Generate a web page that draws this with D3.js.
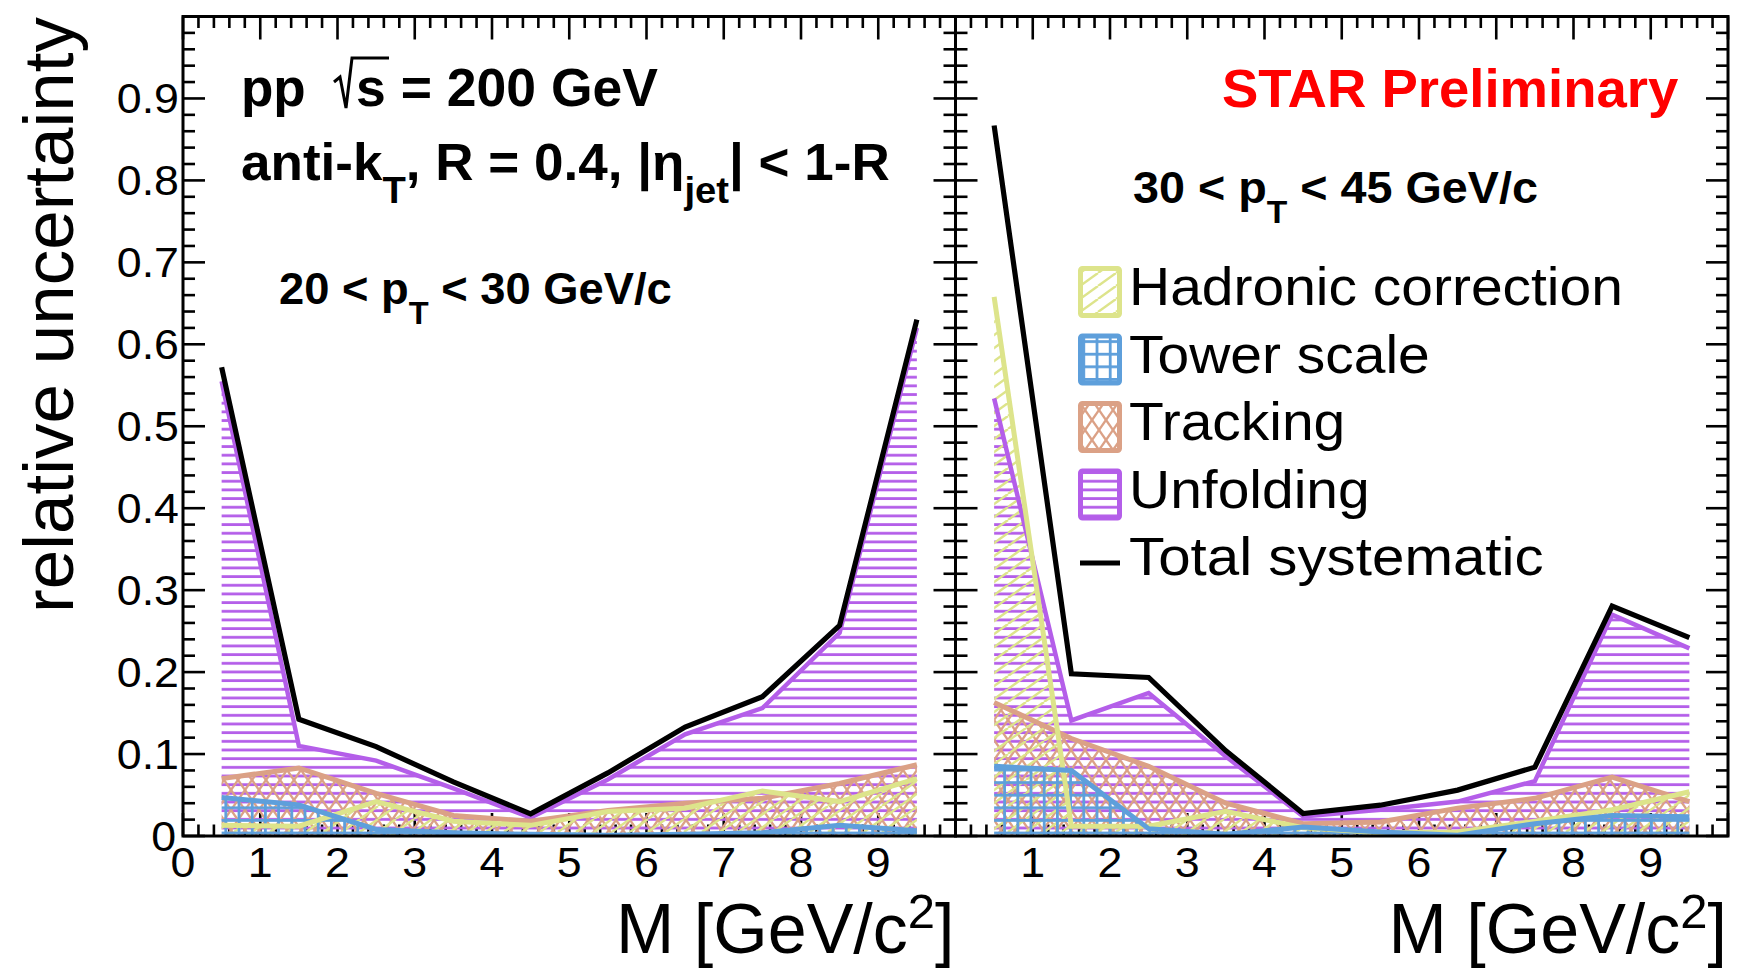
<!DOCTYPE html>
<html>
<head>
<meta charset="utf-8">
<script src="https://cdn.jsdelivr.net/npm/d3@7"></script>
<style>
  html, body { margin: 0; padding: 0; background: #fff; }
  svg { display: block; }
  text { font-family: "Liberation Sans", Arial, Helvetica, sans-serif; }
</style>
</head>
<body>
<div id="chart"></div>
<script>
// ---------------- data ----------------
const massBins = [0.5, 1.5, 2.5, 3.5, 4.5, 5.5, 6.5, 7.5, 8.5, 9.5];

// 20 < pT < 30 GeV/c
const unfoldingLow = [0.555, 0.110, 0.092, 0.058, 0.0225, 0.069, 0.124, 0.156, 0.248, 0.620];
const trackingLow  = [0.070, 0.083, 0.052, 0.025, 0.018, 0.031, 0.040, 0.046, 0.064, 0.087];
const hadronicLow  = [0.013, 0.012, 0.042, 0.018, 0.013, 0.030, 0.034, 0.055, 0.042, 0.070];
const towerLow     = [0.047, 0.038, 0.008, 0.004, 0.002, 0.001, 0.002, 0.004, 0.013, 0.0065];
const totalLow     = [0.572, 0.1425, 0.109, 0.066, 0.027, 0.077, 0.133, 0.170, 0.257, 0.630];

// 30 < pT < 45 GeV/c
const unfoldingHigh = [0.534, 0.141, 0.1745, 0.097, 0.024, 0.032, 0.042, 0.067, 0.270, 0.229];
const trackingHigh  = [0.163, 0.119, 0.085, 0.040, 0.015, 0.017, 0.034, 0.046, 0.072, 0.042];
const hadronicHigh  = [0.658, 0.012, 0.012, 0.030, 0.010, 0.004, 0.005, 0.018, 0.032, 0.054];
const towerHigh     = [0.085, 0.080, 0.009, 0.002, 0.011, 0.005, 0.001, 0.015, 0.025, 0.0235];
const totalHigh     = [0.867, 0.198, 0.1935, 0.104, 0.0275, 0.0376, 0.056, 0.084, 0.2806, 0.242];

const yTickLabels = ["0", "0.1", "0.2", "0.3", "0.4", "0.5", "0.6", "0.7", "0.8", "0.9"];
const xTickLabelsLeft  = ["0", "1", "2", "3", "4", "5", "6", "7", "8", "9"];
const xTickLabelsRight = ["1", "2", "3", "4", "5", "6", "7", "8", "9"];
const legendLabels = ["Hadronic correction", "Tower scale", "Tracking", "Unfolding", "Total systematic"];

// ---------------- styling ----------------
const W = 1739, H = 968;
const COL = {
  unfolding: "#b45ee9",
  tracking: "#dba186",
  hadronic: "#dde48b",
  tower: "#5e9fdb",
  total: "#000000"
};
const TOP = 16.5, BOTTOM = 836;
const panels = [
  { x0: 183, x1: 955.5, name: "low" },
  { x0: 955.5, x1: 1728, name: "high" }
];
const SX = 1.065; // horizontal stretch of regular text

const svg = d3.select("#chart").append("svg")
  .attr("width", W).attr("height", H)
  .attr("viewBox", `0 0 ${W} ${H}`);
const defs = svg.append("defs");

// ---- hatch patterns ----
function pattern(id, w, h) {
  return defs.append("pattern").attr("id", id)
    .attr("patternUnits", "userSpaceOnUse")
    .attr("width", w).attr("height", h);
}
// Unfolding: horizontal lines
(function () {
  const p = pattern("pUnf", 10, 8.67);
  p.append("rect").attr("x", 0).attr("y", 3).attr("width", 10).attr("height", 2.8).attr("fill", COL.unfolding);
})();
// Tower: grid
(function () {
  const p = pattern("pTow", 13.2, 12.6);
  p.append("rect").attr("x", 0).attr("y", 0).attr("width", 2.8).attr("height", 12.6).attr("fill", COL.tower);
  p.append("rect").attr("x", 0).attr("y", 0).attr("width", 13.2).attr("height", 2.8).attr("fill", COL.tower);
})();
// Tracking: cross hatch
(function () {
  const w = 14, h = 20;
  const p = pattern("pTrk", w, h);
  const g = p.append("g").attr("stroke", COL.tracking).attr("stroke-width", 2.4).attr("fill", "none");
  [[0, 0], [-w, 0], [w, 0], [0, -h], [0, h]].forEach(([dx, dy]) => {
    g.append("line").attr("x1", dx).attr("y1", dy).attr("x2", dx + w).attr("y2", dy + h);
    g.append("line").attr("x1", dx + w).attr("y1", dy).attr("x2", dx).attr("y2", dy + h);
  });
})();
// Hadronic: single diagonal
(function () {
  const w = 18, h = 13;
  const p = pattern("pHad", w, h);
  const g = p.append("g").attr("stroke", COL.hadronic).attr("stroke-width", 2.4).attr("fill", "none");
  [[0, 0], [-w, 0], [w, 0]].forEach(([dx, dy]) => {
    g.append("line").attr("x1", dx).attr("y1", dy + h).attr("x2", dx + w).attr("y2", dy);
  });
})();

const yScale = d3.scaleLinear().domain([0, 1]).range([BOTTOM, TOP]);

const seriesLow = [
  { vals: unfoldingLow, pat: "pUnf", col: COL.unfolding, lw: 4.5 },
  { vals: trackingLow, pat: "pTrk", col: COL.tracking, lw: 5 },
  { vals: hadronicLow, pat: "pHad", col: COL.hadronic, lw: 5 },
  { vals: towerLow, pat: "pTow", col: COL.tower, lw: 5 }
];
const seriesHigh = [
  { vals: unfoldingHigh, pat: "pUnf", col: COL.unfolding, lw: 4.5 },
  { vals: trackingHigh, pat: "pTrk", col: COL.tracking, lw: 5 },
  { vals: hadronicHigh, pat: "pHad", col: COL.hadronic, lw: 5 },
  { vals: towerHigh, pat: "pTow", col: COL.tower, lw: 5 }
];

panels.forEach((P, pi) => {
  const xScale = d3.scaleLinear().domain([0, 10]).range([P.x0, P.x1]);
  const g = svg.append("g");

  // clip
  defs.append("clipPath").attr("id", "clip" + pi)
    .append("rect").attr("x", P.x0).attr("y", TOP).attr("width", P.x1 - P.x0).attr("height", BOTTOM - TOP);

  // ticks
  const tg = g.append("g").attr("stroke", "#000").attr("stroke-width", 2.6);
  const xMinor = d3.range(0, 50.5, 1).map(i => i / 5);
  xMinor.forEach((v, i) => {
    const major = i % 5 === 0;
    const len = major ? 23 : 11.5;
    const x = xScale(v);
    tg.append("line").attr("x1", x).attr("x2", x).attr("y1", BOTTOM).attr("y2", BOTTOM - len);
    tg.append("line").attr("x1", x).attr("x2", x).attr("y1", TOP).attr("y2", TOP + len);
  });
  const yMinor = d3.range(0, 50.5, 1).map(i => i / 50);
  yMinor.forEach((v, i) => {
    const major = i % 5 === 0;
    const len = major ? 22 : 12;
    const y = yScale(v);
    tg.append("line").attr("x1", P.x0).attr("x2", P.x0 + len).attr("y1", y).attr("y2", y);
    tg.append("line").attr("x1", P.x1).attr("x2", P.x1 - len).attr("y1", y).attr("y2", y);
  });

  // data
  const dg = g.append("g").attr("clip-path", `url(#clip${pi})`);
  const series = pi === 0 ? seriesLow : seriesHigh;
  const total = pi === 0 ? totalLow : totalHigh;
  const area = d3.area().x((d, i) => xScale(massBins[i])).y0(yScale(0)).y1(d => yScale(d));
  const line = d3.line().x((d, i) => xScale(massBins[i])).y(d => yScale(d));
  series.forEach(s => {
    dg.append("path").attr("d", area(s.vals)).attr("fill", `url(#${s.pat})`).attr("stroke", "none");
  });
  series.forEach(s => {
    dg.append("path").attr("d", line(s.vals)).attr("fill", "none")
      .attr("stroke", s.col).attr("stroke-width", s.lw).attr("stroke-linejoin", "miter");
  });
  dg.append("path").attr("d", line(total)).attr("fill", "none")
    .attr("stroke", COL.total).attr("stroke-width", 5.2).attr("stroke-linejoin", "miter");

  // frame
  g.append("rect").attr("x", P.x0).attr("y", TOP).attr("width", P.x1 - P.x0).attr("height", BOTTOM - TOP)
    .attr("fill", "none").attr("stroke", "#000").attr("stroke-width", 3);

  // x tick labels
  const labels = pi === 0 ? xTickLabelsLeft : xTickLabelsRight;
  labels.forEach(l => {
    g.append("text").attr("transform", `translate(${xScale(+l)},877) scale(${SX},1)`)
      .attr("text-anchor", "middle").attr("font-size", 42).text(l);
  });

  // x axis title
  const t = g.append("text").attr("transform", `translate(${P.x1 - 1},953)`)
    .attr("text-anchor", "end").attr("font-size", 70);
  t.append("tspan").text("M [GeV/c");
  t.append("tspan").attr("font-size", 49).attr("dy", -25).text("2");
  t.append("tspan").attr("dy", 25).text("]");
});

// y tick labels (left panel only)
yTickLabels.forEach(l => {
  const y = yScale(+l);
  svg.append("text").attr("transform", `translate(${+l === 0 ? 176 : 179},${y + 15}) scale(${SX},1)`)
    .attr("text-anchor", "end").attr("font-size", 42).text(l);
});

// y axis title
svg.append("text").attr("transform", "translate(73,17) rotate(-90)")
  .attr("text-anchor", "end").attr("font-size", 71).text("relative uncertainty");

// ---------------- annotations ----------------
function addText(x, y, size, parts, opts = {}) {
  const sx = opts.sx || 1;
  const t = svg.append("text").attr("transform", `translate(${x},${y}) scale(${sx},1)`)
    .attr("font-size", size)
    .attr("font-weight", opts.weight || "bold").attr("fill", opts.fill || "#000");
  let cur = 0;
  parts.forEach(p => {
    const ts = t.append("tspan");
    const off = p.sub ? Math.round(size * 0.45) : 0;
    ts.attr("dy", off - cur);
    cur = off;
    if (p.sub) ts.attr("font-size", size * 0.72);
    ts.text(p.t);
  });
  return t;
}

// pp sqrt(s) = 200 GeV
addText(241, 106, 53, [{ t: "pp" }]);
svg.append("path").attr("d", "M334,82 L340,77 L346,108 L352,58 L389,58")
  .attr("fill", "none").attr("stroke", "#000").attr("stroke-width", 3).attr("stroke-linejoin", "miter");
addText(356, 106, 53, [{ t: "s = 200 GeV" }], { sx: 1.01 });

addText(241, 180, 52, [
  { t: "anti-k" }, { t: "T", sub: true }, { t: ", R = 0.4, |\u03b7" }, { t: "jet", sub: true }, { t: "| < 1-R" }
], { sx: 1.02 });

addText(279, 304, 44, [{ t: "20 < p" }, { t: "T", sub: true }, { t: " < 30 GeV/c" }], { sx: 1.03 });
addText(1133, 203, 44, [{ t: "30 < p" }, { t: "T", sub: true }, { t: " < 45 GeV/c" }], { sx: 1.062 });

addText(1222, 107, 54.5, [{ t: "STAR Preliminary" }], { fill: "#ff0000" });

// ---------------- legend ----------------
const legendPatterns = ["pHad", "pTow", "pTrk", "pUnf"];
const legendColors = [COL.hadronic, COL.tower, COL.tracking, COL.unfolding];
const legendBase = 305, legendStep = 67.5;
legendLabels.forEach((lab, i) => {
  const yb = legendBase + i * legendStep;
  if (i < 4) {
    svg.append("rect").attr("x", 1080.5).attr("y", yb - 36.5).attr("width", 39).attr("height", 47)
      .attr("rx", 2).attr("fill", `url(#${legendPatterns[i]})`)
      .attr("stroke", legendColors[i]).attr("stroke-width", 5);
  } else {
    svg.append("line").attr("x1", 1080).attr("x2", 1120).attr("y1", yb - 12).attr("y2", yb - 12)
      .attr("stroke", COL.total).attr("stroke-width", 5);
  }
  svg.append("text").attr("transform", `translate(1129,${yb}) scale(${i === 4 ? 1.09 : SX},1)`)
    .attr("font-size", 53.5).text(lab);
});
</script>
</body>
</html>
